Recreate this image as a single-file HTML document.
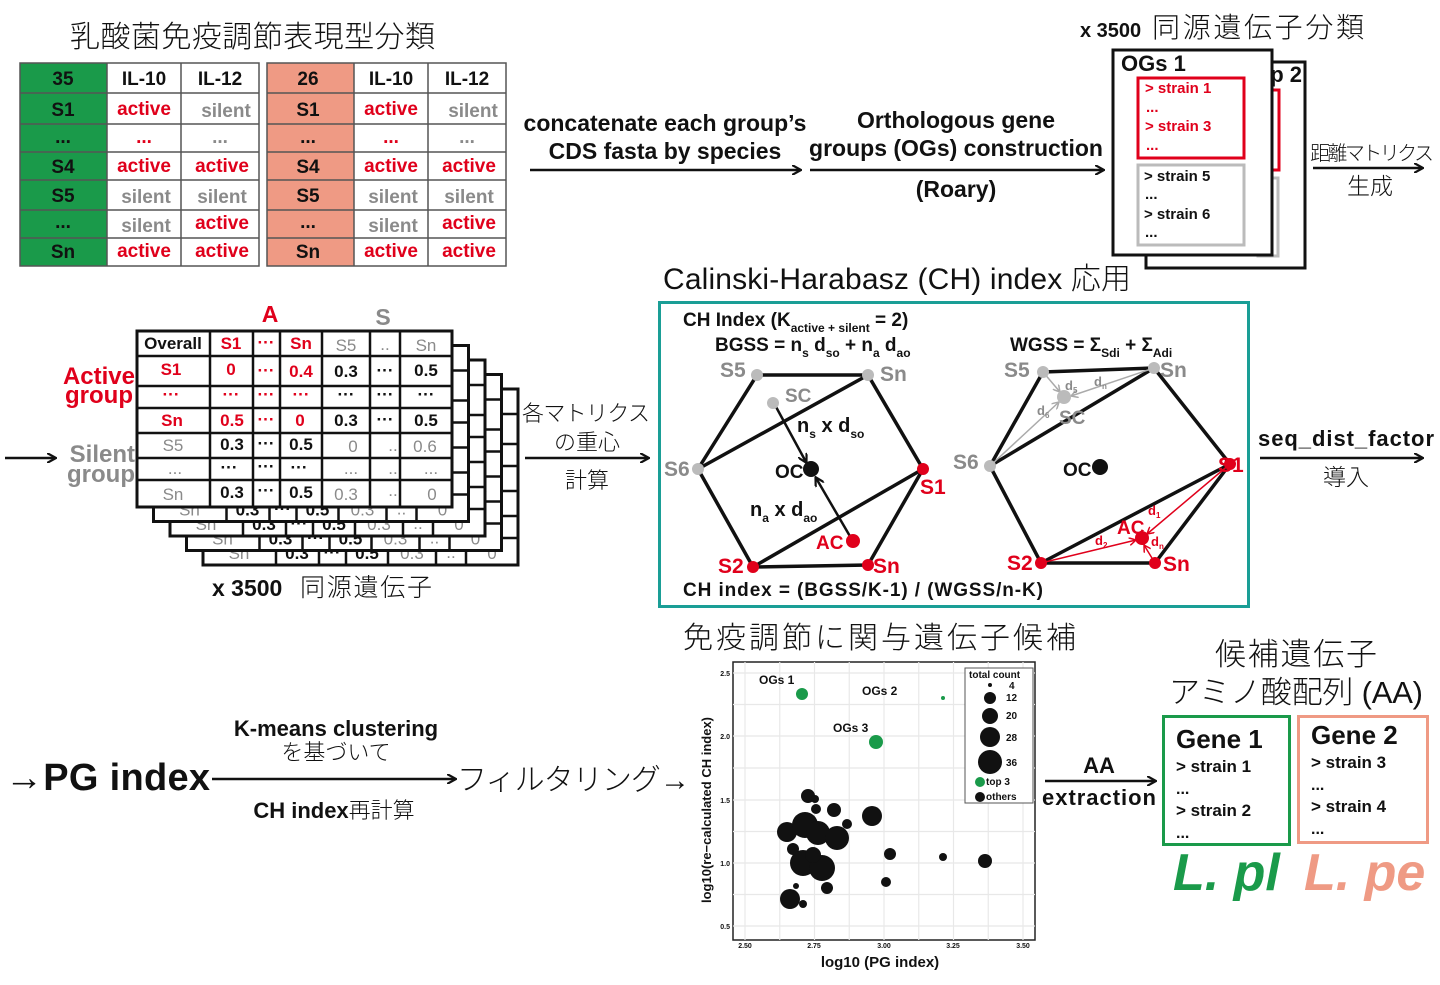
<!DOCTYPE html>
<html><head><meta charset="utf-8"><style>
html,body{margin:0;padding:0;background:#fff}
svg{display:block}
text{font-family:"Liberation Sans","Noto Sans CJK JP",sans-serif}
.b{font-weight:bold}
.jp{font-family:"Liberation Sans","Noto Sans CJK JP",sans-serif;font-weight:300}
.r{fill:#e0001b}.g{fill:#8a8a8a}.k{fill:#111}
</style></head><body>
<svg width="1440" height="985" viewBox="0 0 1440 985" xmlns="http://www.w3.org/2000/svg">
<defs>
<marker id="ah" markerWidth="10" markerHeight="10" refX="8" refY="5" orient="auto" markerUnits="userSpaceOnUse"><path d="M0,0 L9,5 L0,10" fill="none" stroke="#111" stroke-width="2.2"/></marker>
<marker id="ahr" markerWidth="8" markerHeight="8" refX="7" refY="4" orient="auto" markerUnits="userSpaceOnUse"><path d="M0,0 L7,4 L0,8" fill="none" stroke="#e0001b" stroke-width="1.5"/></marker>
<marker id="ahg" markerWidth="8" markerHeight="8" refX="7" refY="4" orient="auto" markerUnits="userSpaceOnUse"><path d="M0,0 L7,4 L0,8" fill="none" stroke="#aaa" stroke-width="1.5"/></marker>
</defs>

<text x="70" y="47" font-size="30" class="jp k" textLength="365">乳酸菌免疫調節表現型分類</text>

<rect x="20" y="63" width="87" height="203" fill="#1a9a4a"/>
<rect x="267" y="63" width="87" height="203" fill="#ef9a84"/>
<g stroke="#555" stroke-width="1.5" fill="none">
<rect x="20" y="63" width="239" height="203"/>
<rect x="267" y="63" width="239" height="203"/>
<path d="M107,63V266M181,63V266M354,63V266M428,63V266"/>
<path d="M20,93H259M20,124H259M20,152H259M20,180H259M20,210H259M20,238H259"/>
<path d="M267,93H506M267,124H506M267,152H506M267,180H506M267,210H506M267,238H506"/>
</g>
<g font-size="19" class="b" text-anchor="middle">
<text x="63" y="85" class="k">35</text><text x="144" y="85" class="k">IL-10</text><text x="220" y="85" class="k">IL-12</text>
<text x="63" y="116" class="k">S1</text><text x="144" y="115" class="r">active</text><text x="226" y="117" class="g">silent</text>
<text x="63" y="143" class="k">...</text><text x="144" y="143" class="r">...</text><text x="220" y="143" class="g">...</text>
<text x="63" y="173" class="k">S4</text><text x="144" y="172" class="r">active</text><text x="222" y="172" class="r">active</text>
<text x="63" y="202" class="k">S5</text><text x="146" y="203" class="g">silent</text><text x="222" y="203" class="g">silent</text>
<text x="63" y="228" class="k">...</text><text x="146" y="232" class="g">silent</text><text x="222" y="229" class="r">active</text>
<text x="63" y="258" class="k">Sn</text><text x="144" y="257" class="r">active</text><text x="222" y="257" class="r">active</text>

<text x="308" y="85" class="k">26</text><text x="391" y="85" class="k">IL-10</text><text x="467" y="85" class="k">IL-12</text>
<text x="308" y="116" class="k">S1</text><text x="391" y="115" class="r">active</text><text x="473" y="117" class="g">silent</text>
<text x="308" y="143" class="k">...</text><text x="391" y="143" class="r">...</text><text x="467" y="143" class="g">...</text>
<text x="308" y="173" class="k">S4</text><text x="391" y="172" class="r">active</text><text x="469" y="172" class="r">active</text>
<text x="308" y="202" class="k">S5</text><text x="393" y="203" class="g">silent</text><text x="469" y="203" class="g">silent</text>
<text x="308" y="228" class="k">...</text><text x="393" y="232" class="g">silent</text><text x="469" y="229" class="r">active</text>
<text x="308" y="258" class="k">Sn</text><text x="391" y="257" class="r">active</text><text x="469" y="257" class="r">active</text>
</g>

<g stroke="#111" stroke-width="2.5" marker-end="url(#ah)">
<line x1="530" y1="170" x2="800" y2="170"/>
<line x1="810" y1="170" x2="1103" y2="170"/>
<line x1="1313" y1="168" x2="1422" y2="168"/>
<line x1="5" y1="458" x2="55" y2="458"/>
<line x1="525" y1="458" x2="648" y2="458"/>
<line x1="1260" y1="458" x2="1422" y2="458"/>
<line x1="212" y1="779" x2="455" y2="779"/>
<line x1="1045" y1="781" x2="1155" y2="781"/>
</g>
<g font-size="23" class="b k" text-anchor="middle">
<text x="665" y="131">concatenate each group’s</text>
<text x="665" y="159">CDS fasta by species</text>
<text x="956" y="128">Orthologous gene</text>
<text x="956" y="156">groups (OGs) construction</text>
<text x="956" y="197">(Roary)</text>
</g>
<text x="1080" y="37" font-size="20" class="b k">x 3500</text>
<text x="1152" y="37" font-size="28" class="jp k" textLength="212">同源遺伝子分類</text>
<text x="1310" y="160" font-size="20" class="jp k" textLength="124">距離マトリクス</text>
<text x="1370" y="194" font-size="23" class="jp k" text-anchor="middle">生成</text>

<rect x="1146" y="62" width="159" height="206" fill="#fff" stroke="#111" stroke-width="3"/>
<text x="1302" y="82" font-size="22" class="b k" text-anchor="end">Group 2</text>
<rect x="1258" y="90" width="21" height="80" fill="none" stroke="#e0001b" stroke-width="3"/>
<rect x="1258" y="178" width="20" height="78" fill="none" stroke="#bbb" stroke-width="3"/>
<rect x="1113" y="50" width="159" height="205" fill="#fff" stroke="#111" stroke-width="3"/>
<text x="1121" y="71" font-size="22" class="b k">OGs 1</text>
<rect x="1138" y="78" width="106" height="80" fill="none" stroke="#e0001b" stroke-width="3"/>
<rect x="1138" y="165" width="106" height="80" fill="none" stroke="#bbb" stroke-width="3"/>
<g font-size="15" class="b">
<text x="1145" y="93" class="r">&gt;  strain 1</text><text x="1146" y="112" class="r">...</text>
<text x="1145" y="131" class="r">&gt;  strain 3</text><text x="1146" y="150" class="r">...</text>
<text x="1144" y="181" class="k">&gt;  strain 5</text><text x="1145" y="199" class="k">...</text>
<text x="1144" y="219" class="k">&gt;  strain 6</text><text x="1145" y="237" class="k">...</text>
</g>

<text x="270" y="322" font-size="23" class="b r" text-anchor="middle">A</text>
<text x="383" y="325" font-size="23" class="b g" text-anchor="middle">S</text>
<g font-size="24" class="b" text-anchor="end">
<text x="135" y="384" class="r">Active</text><text x="133" y="403" class="r">group</text>
<text x="135" y="462" class="g">Silent</text><text x="135" y="482" class="g">group</text>
</g>
<g font-size="17" text-anchor="middle">
<g transform="translate(66,58)">
<rect x="137" y="331" width="315" height="176" fill="#fff" stroke="#111" stroke-width="3"/>
<path d="M210,331V507M253,331V507M280,331V507M322,331V507M370,331V507M400,331V507M137,356H452M137,386H452M137,408H452M137,433H452M137,458H452M137,480H452" stroke="#111" stroke-width="2.5"/>
<text x="173" y="501" class="g">Sn</text><text x="231" y="501" class="b k">0.3</text><text x="266" y="500" class="b k">···</text><text x="301" y="501" class="b k">0.5</text><text x="346" y="501" class="g">0.3</text><text x="385" y="500" class="g">..</text><text x="426" y="501" class="g">0</text>
<text x="426" y="350" class="g">Sn</text><text x="426" y="452" class="g">0.6</text>
</g>
<g transform="translate(49.5,43.5)">
<rect x="137" y="331" width="315" height="176" fill="#fff" stroke="#111" stroke-width="3"/>
<path d="M210,331V507M253,331V507M280,331V507M322,331V507M370,331V507M400,331V507M137,356H452M137,386H452M137,408H452M137,433H452M137,458H452M137,480H452" stroke="#111" stroke-width="2.5"/>
<text x="173" y="501" class="g">Sn</text><text x="231" y="501" class="b k">0.3</text><text x="266" y="500" class="b k">···</text><text x="301" y="501" class="b k">0.5</text><text x="346" y="501" class="g">0.3</text><text x="385" y="500" class="g">..</text><text x="426" y="501" class="g">0</text>
<text x="426" y="350" class="g">Sn</text><text x="426" y="452" class="g">0.6</text>
</g>
<g transform="translate(33,29)">
<rect x="137" y="331" width="315" height="176" fill="#fff" stroke="#111" stroke-width="3"/>
<path d="M210,331V507M253,331V507M280,331V507M322,331V507M370,331V507M400,331V507M137,356H452M137,386H452M137,408H452M137,433H452M137,458H452M137,480H452" stroke="#111" stroke-width="2.5"/>
<text x="173" y="501" class="g">Sn</text><text x="231" y="501" class="b k">0.3</text><text x="266" y="500" class="b k">···</text><text x="301" y="501" class="b k">0.5</text><text x="346" y="501" class="g">0.3</text><text x="385" y="500" class="g">..</text><text x="426" y="501" class="g">0</text>
<text x="426" y="350" class="g">Sn</text><text x="426" y="452" class="g">0.6</text>
</g>
<g transform="translate(16.5,14.5)">
<rect x="137" y="331" width="315" height="176" fill="#fff" stroke="#111" stroke-width="3"/>
<path d="M210,331V507M253,331V507M280,331V507M322,331V507M370,331V507M400,331V507M137,356H452M137,386H452M137,408H452M137,433H452M137,458H452M137,480H452" stroke="#111" stroke-width="2.5"/>
<text x="173" y="501" class="g">Sn</text><text x="231" y="501" class="b k">0.3</text><text x="266" y="500" class="b k">···</text><text x="301" y="501" class="b k">0.5</text><text x="346" y="501" class="g">0.3</text><text x="385" y="500" class="g">..</text><text x="426" y="501" class="g">0</text>
<text x="426" y="350" class="g">Sn</text><text x="426" y="452" class="g">0.6</text>
</g>
<rect x="137" y="331" width="315" height="176" fill="#fff" stroke="#111" stroke-width="3"/>
<path d="M210,331V507M253,331V507M280,331V507M322,331V507M370,331V507M400,331V507M137,356H452M137,386H452M137,408H452M137,433H452M137,458H452M137,480H452" stroke="#111" stroke-width="2.5"/>
<text x="173" y="349" class="b k">Overall</text><text x="231" y="349" class="b r">S1</text><text x="266" y="348" class="b r">···</text><text x="301" y="349" class="b r">Sn</text><text x="346" y="351" class="g">S5</text><text x="385" y="350" class="g">..</text><text x="426" y="351" class="g">Sn</text>
<text x="171" y="375" class="b r">S1</text><text x="231" y="375" class="b r">0</text><text x="266" y="376" class="b r">···</text><text x="301" y="377" class="b r">0.4</text><text x="346" y="377" class="b k">0.3</text><text x="385" y="376" class="b k">···</text><text x="426" y="376" class="b k">0.5</text>
<text x="171" y="400" class="b r">···</text><text x="231" y="400" class="b r">···</text><text x="266" y="400" class="b r">···</text><text x="301" y="400" class="b r">···</text><text x="346" y="400" class="b k">···</text><text x="385" y="400" class="b k">···</text><text x="426" y="400" class="b k">···</text>
<text x="172" y="426" class="b r">Sn</text><text x="232" y="426" class="b r">0.5</text><text x="266" y="425" class="b r">···</text><text x="300" y="426" class="b r">0</text><text x="346" y="426" class="b k">0.3</text><text x="385" y="425" class="b k">···</text><text x="426" y="426" class="b k">0.5</text>
<text x="173" y="451" class="g">S5</text><text x="232" y="450" class="b k">0.3</text><text x="266" y="449" class="b k">···</text><text x="301" y="450" class="b k">0.5</text><text x="353" y="452" class="g">0</text><text x="393" y="451" class="g">..</text><text x="425" y="452" class="g">0.6</text>
<text x="175" y="474" class="g">...</text><text x="229" y="473" class="b k">···</text><text x="266" y="472" class="b k">···</text><text x="299" y="473" class="b k">···</text><text x="351" y="474" class="g">...</text><text x="393" y="474" class="g">..</text><text x="431" y="474" class="g">...</text>
<text x="173" y="500" class="g">Sn</text><text x="232" y="498" class="b k">0.3</text><text x="266" y="496" class="b k">···</text><text x="301" y="498" class="b k">0.5</text><text x="346" y="500" class="g">0.3</text><text x="393" y="496" class="g">..</text><text x="432" y="500" class="g">0</text>
</g>
<text x="212" y="596" font-size="23" class="b k">x 3500</text>
<text x="300" y="596" font-size="25" class="jp k" textLength="132">同源遺伝子</text>
<text x="522" y="421" font-size="22" class="jp k" textLength="128">各マトリクス</text>
<text x="587" y="450" font-size="22" class="jp k" text-anchor="middle">の重心</text>
<text x="587" y="488" font-size="22" class="jp k" text-anchor="middle">計算</text>
<text x="1258" y="446" font-size="22" class="b k" textLength="176">seq_dist_factor</text>
<text x="1346" y="485" font-size="23" class="jp k" text-anchor="middle">導入</text>

<text x="663" y="289" font-size="30" class="jp k" textLength="468">Calinski-Harabasz (CH) index 応用</text>
<rect x="659.5" y="302.5" width="589" height="304" fill="none" stroke="#1a9e96" stroke-width="3"/>
<g class="b k">
<text x="683" y="326" font-size="19">CH Index (K<tspan font-size="12" dy="6">active + silent</tspan><tspan dy="-6"> = 2)</tspan></text>
<text x="715" y="351" font-size="19">BGSS = n<tspan font-size="12" dy="6">s</tspan><tspan dy="-6"> d</tspan><tspan font-size="12" dy="6">so</tspan><tspan dy="-6"> + n</tspan><tspan font-size="12" dy="6">a</tspan><tspan dy="-6"> d</tspan><tspan font-size="12" dy="6">ao</tspan></text>
<text x="1010" y="351" font-size="19">WGSS = Σ<tspan font-size="12" dy="6">Sdi</tspan><tspan dy="-6"> + Σ</tspan><tspan font-size="12" dy="6">Adi</tspan></text>
<text x="683" y="596" font-size="19" textLength="360">CH index = (BGSS/K-1) / (WGSS/n-K)</text>
</g>
<g stroke="#111" stroke-width="3.5" fill="none">
<polygon points="757,375 868,375 923,469 868,565 753,567 698,469"/>
<line x1="698" y1="469" x2="868" y2="375"/>
<line x1="753" y1="567" x2="923" y2="469"/>
</g>
<g stroke="#111" stroke-width="2.5" marker-end="url(#ah)">
<line x1="775" y1="405" x2="806" y2="462"/>
<line x1="851" y1="538" x2="816" y2="478"/>
</g>
<circle cx="757" cy="375" r="6" fill="#bbb"/><circle cx="868" cy="375" r="6" fill="#bbb"/><circle cx="698" cy="469" r="6" fill="#bbb"/><circle cx="773" cy="403" r="6" fill="#bbb"/>
<circle cx="923" cy="469" r="6" fill="#e0001b"/><circle cx="868" cy="565" r="6" fill="#e0001b"/><circle cx="753" cy="567" r="6" fill="#e0001b"/><circle cx="853" cy="541" r="7" fill="#e0001b"/>
<circle cx="811" cy="469" r="8" fill="#111"/>
<g font-size="21" class="b">
<text x="720" y="377" class="g">S5</text><text x="880" y="381" class="g">Sn</text><text x="664" y="476" class="g">S6</text><text x="785" y="402" class="g" font-size="19">SC</text>
<text x="920" y="494" class="r">S1</text><text x="873" y="573" class="r">Sn</text><text x="718" y="573" class="r">S2</text><text x="816" y="549" class="r" font-size="19">AC</text>
<text x="775" y="478" class="k" font-size="19">OC</text>
<text x="797" y="432" class="k" font-size="20">n<tspan font-size="12" dy="6">s</tspan><tspan dy="-6"> x d</tspan><tspan font-size="12" dy="6">so</tspan></text>
<text x="750" y="516" class="k" font-size="20">n<tspan font-size="12" dy="6">a</tspan><tspan dy="-6"> x d</tspan><tspan font-size="12" dy="6">ao</tspan></text>
</g>
<g stroke="#111" stroke-width="3.5" fill="none">
<polygon points="1043,372 1154,368 1230,464 1155,563 1041,563 990,466"/>
<line x1="990" y1="466" x2="1154" y2="368"/>
<line x1="1041" y1="563" x2="1230" y2="464"/>
</g>
<g stroke="#aaa" stroke-width="1.5" marker-end="url(#ahg)">
<line x1="1043" y1="372" x2="1060" y2="392"/>
<line x1="1154" y1="368" x2="1071" y2="396"/>
<line x1="990" y1="466" x2="1059" y2="402"/>
</g>
<g stroke="#e0001b" stroke-width="1.5" marker-end="url(#ahr)">
<line x1="1230" y1="464" x2="1147" y2="534"/>
<line x1="1041" y1="563" x2="1136" y2="540"/>
<line x1="1155" y1="563" x2="1144" y2="545"/>
</g>
<circle cx="1043" cy="372" r="6" fill="#bbb"/><circle cx="1154" cy="368" r="6" fill="#bbb"/><circle cx="990" cy="466" r="6" fill="#bbb"/><circle cx="1064" cy="397" r="7" fill="#bbb"/>
<circle cx="1230" cy="464" r="6" fill="#e0001b"/><circle cx="1155" cy="563" r="6" fill="#e0001b"/><circle cx="1041" cy="563" r="6" fill="#e0001b"/><circle cx="1142" cy="538" r="7" fill="#e0001b"/>
<circle cx="1100" cy="467" r="8" fill="#111"/>
<g font-size="21" class="b">
<text x="1004" y="377" class="g">S5</text><text x="1160" y="377" class="g">Sn</text><text x="953" y="469" class="g">S6</text><text x="1059" y="424" class="g" font-size="19">SC</text>
<text x="1218" y="472" class="r">S1</text><text x="1163" y="571" class="r">Sn</text><text x="1007" y="570" class="r">S2</text><text x="1117" y="534" class="r" font-size="19">AC</text>
<text x="1063" y="476" class="k" font-size="19">OC</text>
<text x="1065" y="390" class="g" font-size="13">d<tspan font-size="8" dy="3">5</tspan></text>
<text x="1094" y="386" class="g" font-size="13">d<tspan font-size="8" dy="3">n</tspan></text>
<text x="1037" y="415" class="g" font-size="13">d<tspan font-size="8" dy="3">6</tspan></text>
<text x="1148" y="515" class="r" font-size="13">d<tspan font-size="8" dy="3">1</tspan></text>
<text x="1095" y="545" class="r" font-size="13">d<tspan font-size="8" dy="3">2</tspan></text>
<text x="1151" y="546" class="r" font-size="13">d<tspan font-size="8" dy="3">n</tspan></text>
</g>

<text x="683" y="648" font-size="30" class="jp k" textLength="393">免疫調節に関与遺伝子候補</text>
<text x="5" y="790" font-size="38" class="b k" textLength="205">→PG index</text>
<text x="336" y="736" font-size="22" class="b k" text-anchor="middle">K-means clustering</text>
<text x="336" y="760" font-size="22" class="jp k" text-anchor="middle">を基づいて</text>
<text x="334" y="818" font-size="22" class="b k" text-anchor="middle">CH index<tspan class="jp">再計算</tspan></text>
<text x="457" y="790" font-size="30" class="jp k" textLength="233">フィルタリング→</text>

<rect x="733" y="662" width="302" height="278" fill="#fff" stroke="#222" stroke-width="1.5"/>
<g stroke="#e8e8e8" stroke-width="1.2">
<path d="M745,662V940M814.5,662V940M884,662V940M953.5,662V940M1023,662V940M779.75,662V940M849.25,662V940M918.75,662V940M988.25,662V940"/>
<path d="M733,673H1035M733,736H1035M733,800H1035M733,863H1035M733,926H1035M733,704.5H1035M733,768H1035M733,831.5H1035M733,894.5H1035"/>
</g>
<g font-size="7" class="b k" text-anchor="end">
<text x="730" y="676">2.5</text><text x="730" y="739">2.0</text><text x="730" y="803">1.5</text><text x="730" y="866">1.0</text><text x="730" y="929">0.5</text>
</g>
<g font-size="7" class="b k" text-anchor="middle">
<text x="745" y="948">2.50</text><text x="814" y="948">2.75</text><text x="884" y="948">3.00</text><text x="953" y="948">3.25</text><text x="1023" y="948">3.50</text>
</g>
<text x="880" y="967" font-size="15" class="b k" text-anchor="middle">log10 (PG index)</text>
<text transform="translate(711,810) rotate(-90)" font-size="13" class="b k" text-anchor="middle">log10(re−calculated CH index)</text>
<g fill="#111">
<circle cx="808" cy="796" r="7"/><circle cx="815" cy="799" r="4"/><circle cx="816" cy="809" r="5"/><circle cx="834" cy="810" r="7"/><circle cx="872" cy="816" r="10"/><circle cx="847" cy="824" r="5"/><circle cx="787" cy="832" r="10"/><circle cx="805" cy="825" r="13"/><circle cx="818" cy="833" r="12"/><circle cx="837" cy="838" r="12"/><circle cx="793" cy="849" r="6"/><circle cx="890" cy="854" r="6"/><circle cx="943" cy="857" r="4"/><circle cx="985" cy="861" r="7"/><circle cx="803" cy="863" r="13"/><circle cx="822" cy="868" r="13"/><circle cx="813" cy="855" r="8"/><circle cx="886" cy="882" r="5"/><circle cx="796" cy="886" r="3"/><circle cx="827" cy="888" r="6"/><circle cx="790" cy="899" r="10"/><circle cx="803" cy="904" r="4"/>
</g>
<g fill="#1a9a4a"><circle cx="802" cy="694" r="6"/><circle cx="943" cy="698" r="2"/><circle cx="876" cy="742" r="7"/></g>
<g font-size="12" class="b k"><text x="759" y="684">OGs 1</text><text x="862" y="695">OGs 2</text><text x="833" y="732">OGs 3</text></g>
<rect x="965" y="668" width="68" height="135" fill="#fff" stroke="#555" stroke-width="1"/>
<g font-size="10" class="b k">
<text x="969" y="678">total count</text>
<text x="1009" y="689">4</text><text x="1006" y="701">12</text><text x="1006" y="719">20</text><text x="1006" y="741">28</text><text x="1006" y="766">36</text>
<text x="986" y="785">top 3</text><text x="986" y="800">others</text>
</g>
<g fill="#111"><circle cx="990" cy="685" r="2"/><circle cx="990" cy="698" r="6"/><circle cx="990" cy="716" r="8"/><circle cx="990" cy="737" r="10"/><circle cx="990" cy="762" r="12"/><circle cx="980" cy="797" r="5"/></g>
<circle cx="980" cy="782" r="5" fill="#1a9a4a"/>

<text x="1099" y="773" font-size="22" class="b k" text-anchor="middle">AA</text>
<text x="1099" y="805" font-size="22" class="b k" text-anchor="middle" textLength="114">extraction</text>
<text x="1296" y="665" font-size="31" class="jp k" text-anchor="middle" textLength="162">候補遺伝子</text>
<text x="1296" y="703" font-size="31" class="jp k" text-anchor="middle" textLength="254">アミノ酸配列 (AA)</text>
<rect x="1163.5" y="716.5" width="126" height="128" fill="none" stroke="#1a9a4a" stroke-width="3"/>
<rect x="1298.5" y="716.5" width="129" height="126" fill="none" stroke="#ef9a84" stroke-width="3"/>
<g class="b k">
<text x="1176" y="748" font-size="26">Gene 1</text>
<text x="1176" y="772" font-size="17">&gt; strain 1</text><text x="1176" y="794" font-size="16">...</text>
<text x="1176" y="816" font-size="17">&gt; strain 2</text><text x="1176" y="838" font-size="16">...</text>
<text x="1311" y="744" font-size="26">Gene 2</text>
<text x="1311" y="768" font-size="17">&gt; strain 3</text><text x="1311" y="790" font-size="16">...</text>
<text x="1311" y="812" font-size="17">&gt; strain 4</text><text x="1311" y="834" font-size="16">...</text>
</g>
<text x="1173" y="890" font-size="52" font-weight="bold" font-style="italic" fill="#1a9a4a">L. pl</text>
<text x="1304" y="890" font-size="52" font-weight="bold" font-style="italic" fill="#ef9a84">L. pe</text>
</svg>
</body></html>
